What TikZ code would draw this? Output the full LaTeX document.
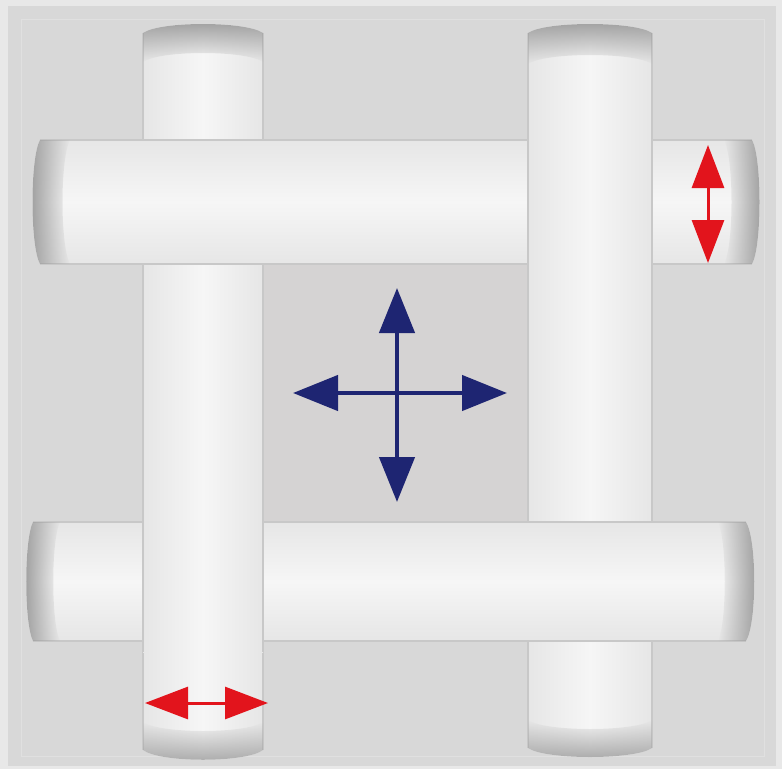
\documentclass[tikz,border=0pt]{standalone}
\usetikzlibrary{arrows.meta,fadings}
\definecolor{bgc}{HTML}{D8D8D8}
\definecolor{bgin}{HTML}{D5D3D3}
\definecolor{bmid}{HTML}{F6F6F6}
\definecolor{bedge}{HTML}{E6E6E6}
\definecolor{bline}{HTML}{C8C8C8}
\definecolor{capd}{HTML}{9E9E9E}
\definecolor{capl}{HTML}{A8A8A8}
\definecolor{navy}{HTML}{1E2572}
\definecolor{redc}{HTML}{E2141C}
\tikzfading[name=fadeTop, top color=transparent!0, bottom color=transparent!100]
\tikzfading[name=fadeBot, top color=transparent!100, bottom color=transparent!0]
\tikzfading[name=fadeLeft, left color=transparent!0, right color=transparent!100]
\tikzfading[name=fadeRight, left color=transparent!100, right color=transparent!0]
\tikzset{
  vbody/.style={left color=bedge, right color=bedge, middle color=bmid},
  hbody/.style={top color=bedge, bottom color=bedge, middle color=bmid},
  side/.style={draw=bline, line width=1.2pt},
  bluearr/.style={navy, line width=4.5pt, {Triangle[length=45pt,width=35pt]}-{Triangle[length=45pt,width=35pt]}},
  redarr/.style={redc, line width=3pt, {Triangle[length=43pt,width=32pt]}-{Triangle[length=43pt,width=32pt]}}
}
\begin{document}
\begin{tikzpicture}[x=1pt,y=-1pt]
\useasboundingbox (0,0) rectangle (782,769);
% background
\fill[bgc!60!white] (0,0) rectangle (782,769);
\fill[bgc] (8,6) rectangle (776,766);
\draw[bgc!80!white, line width=0.8pt] (21,19) rectangle (764,756);
\fill[bgin] (263,265) rectangle (528,522);

% ---- V1 (left vertical bar) ----
\shade[vbody] (143,33) .. controls (160,21) and (246,21) .. (263,33) -- (263,750) .. controls (246,763) and (160,763) .. (143,750) -- cycle;
\draw[side] (143,33) -- (143,750) (263,33) -- (263,750);
\fill[capd, path fading=fadeTop] (143,33) .. controls (160,21) and (246,21) .. (263,33) -- (263,62) .. controls (246,50) and (160,50) .. (143,62) -- cycle;
\fill[capl, path fading=fadeBot] (143,722) .. controls (160,734) and (246,734) .. (263,722) -- (263,750) .. controls (246,763) and (160,763) .. (143,750) -- cycle;

% ---- H1 (top horizontal bar) ----
\shade[hbody] (40,140) -- (752,140) .. controls (762,158) and (762,246) .. (752,264) -- (40,264) .. controls (30,246) and (30,158) .. (40,140) -- cycle;
\draw[side] (40,140) -- (752,140) (40,264) -- (752,264);
\fill[capd, path fading=fadeLeft] (40,140) .. controls (30,158) and (30,246) .. (40,264) -- (70,264) .. controls (60,246) and (60,158) .. (70,140) -- cycle;
\fill[capd, path fading=fadeRight] (724,140) .. controls (734,158) and (734,246) .. (724,264) -- (752,264) .. controls (762,246) and (762,158) .. (752,140) -- cycle;

% ---- V2 (right vertical bar) ----
\shade[vbody] (528,33) .. controls (545,21) and (635,21) .. (652,33) -- (652,748) .. controls (635,760) and (545,760) .. (528,748) -- cycle;
\draw[side] (528,33) -- (528,748) (652,33) -- (652,748);
\fill[capd, path fading=fadeTop] (528,33) .. controls (545,21) and (635,21) .. (652,33) -- (652,64) .. controls (635,52) and (545,52) .. (528,64) -- cycle;
\fill[capl, path fading=fadeBot] (528,720) .. controls (545,732) and (635,732) .. (652,720) -- (652,748) .. controls (635,760) and (545,760) .. (528,748) -- cycle;

% ---- H2 (bottom horizontal bar) ----
\shade[hbody] (33,522) -- (746,522) .. controls (757,540) and (757,623) .. (746,641) -- (33,641) .. controls (24,623) and (24,540) .. (33,522) -- cycle;
\draw[side] (33,522) -- (746,522) (33,641) -- (746,641);
\fill[capd, path fading=fadeLeft] (33,522) .. controls (24,540) and (24,623) .. (33,641) -- (60,641) .. controls (51,623) and (51,540) .. (60,522) -- cycle;
\fill[capd, path fading=fadeRight] (718,522) .. controls (727,540) and (727,623) .. (718,641) -- (746,641) .. controls (757,623) and (757,540) .. (746,522) -- cycle;

% ---- V1 over H2 ----
\shade[vbody] (143,512) rectangle (263,652);
\draw[side] (143,512) -- (143,652) (263,512) -- (263,652);

% ---- arrows ----
\coordinate (bl) at (293,393);
\coordinate (br) at (507,393);
\coordinate (bt) at (397,288);
\coordinate (bb) at (397,502);
\draw[bluearr] (bl) -- (br);
\draw[bluearr] (bt) -- (bb);
\coordinate (rt) at (708,145);
\coordinate (rb) at (708,263);
\draw[redarr] (rt) -- (rb);
\coordinate (rl) at (145,703);
\coordinate (rr) at (268,703);
\draw[redarr] (rl) -- (rr);
\end{tikzpicture}
\end{document}
